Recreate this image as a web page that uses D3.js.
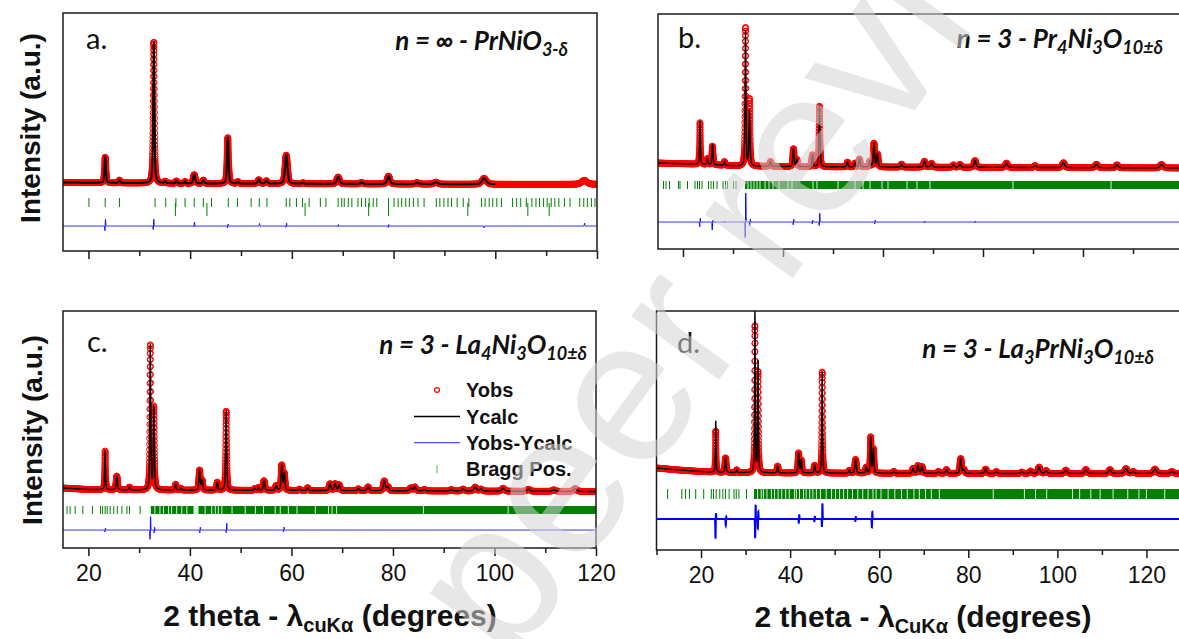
<!DOCTYPE html>
<html>
<head>
<meta charset="utf-8">
<title>Rietveld refinements</title>
<script src="https://cdn.jsdelivr.net/npm/d3@7/dist/d3.min.js"></script>
<style>
    html, body { margin: 0; padding: 0; background: #fff; overflow: hidden; }
    svg { display: block; }
</style>
</head>
<body>
<div id="svg-container"></div>
<script>
// peak tables: [2theta, Yobs height, Ycalc height, fwhm]  (heights in counts above background)
var peaksA = [
    [23.3, 2600, 2600, 0.3], [26.1, 300, 300, 0.3], [32.85, 14100, 14100, 0.3],
    [35.1, 200, 200, 0.3], [37.3, 250, 250, 0.3], [39.0, 200, 200, 0.3],
    [40.8, 900, 900, 0.45], [42.6, 350, 350, 0.4], [47.4, 4600, 4600, 0.35],
    [49.4, 200, 200, 0.4], [53.5, 400, 400, 0.5], [55.0, 300, 300, 0.5],
    [58.9, 2900, 2900, 0.55], [62.2, 100, 100, 0.5], [69.1, 700, 700, 0.6],
    [73.7, 150, 150, 0.6], [79.0, 800, 800, 0.6], [84.6, 150, 150, 0.7],
    [88.3, 200, 200, 0.8], [97.8, 600, 600, 1.0], [117.5, 400, 0, 1.2]
];
var peaksB = [
    [23.4, 4200, 4300, 0.2], [24.9, 600, 600, 0.2], [25.9, 1900, 2000, 0.25],
    [28.3, 400, 400, 0.25], [32.5, 13800, 13500, 0.22], [33.3, 6700, 5500, 0.25],
    [37.5, 500, 500, 0.3], [42.1, 1800, 1800, 0.3], [42.8, 700, 700, 0.3],
    [45.9, 1200, 1200, 0.3], [47.3, 6100, 6100, 0.25], [52.9, 500, 500, 0.3],
    [54.4, 400, 400, 0.3], [55.3, 800, 800, 0.3], [57.4, 600, 600, 0.3],
    [58.2, 2400, 2400, 0.3], [58.9, 1300, 1300, 0.3], [63.7, 300, 300, 0.35],
    [68.3, 600, 600, 0.4], [69.7, 400, 400, 0.4], [74.1, 250, 250, 0.4],
    [75.4, 300, 300, 0.4], [78.4, 700, 700, 0.45], [84.7, 450, 450, 0.5],
    [90.4, 200, 200, 0.5], [96.1, 500, 500, 0.6], [102.7, 350, 350, 0.6],
    [106.8, 300, 300, 0.6], [115.7, 350, 350, 0.7]
];
var peaksC = [
    [23.3, 3900, 3900, 0.2], [25.6, 1400, 1400, 0.3], [28.1, 300, 300, 0.25],
    [32.2, 14400, 14400, 0.22], [32.9, 8300, 8300, 0.25], [37.2, 600, 600, 0.3],
    [38.2, 200, 200, 0.3], [41.9, 2000, 2000, 0.3], [42.4, 1000, 1000, 0.3],
    [45.4, 800, 800, 0.3], [47.15, 7900, 7900, 0.25], [52.8, 200, 200, 0.3],
    [53.5, 300, 300, 0.3], [54.6, 1000, 1000, 0.35], [57.0, 500, 500, 0.35],
    [58.1, 2500, 2500, 0.3], [58.6, 1700, 1700, 0.3], [61.6, 150, 150, 0.35],
    [63.2, 300, 300, 0.35], [67.6, 700, 700, 0.4], [68.6, 700, 700, 0.4],
    [69.4, 600, 600, 0.4], [73.2, 200, 200, 0.4], [75.1, 400, 400, 0.45],
    [78.3, 1000, 1000, 0.45], [79.0, 400, 400, 0.45], [83.5, 300, 300, 0.5],
    [84.3, 400, 400, 0.5], [86.2, 150, 150, 0.5], [91.5, 150, 150, 0.5],
    [93.8, 200, 200, 0.6], [96.2, 400, 400, 0.6], [97.3, 200, 200, 0.6],
    [101.7, 300, 300, 0.6], [106.7, 200, 200, 0.7], [111.7, 150, 150, 0.7],
    [115.9, 300, 300, 0.7]
];
var peaksD = [
    [23.3, 4100, 5100, 0.18], [25.5, 1500, 1500, 0.3], [28.0, 300, 300, 0.25],
    [32.1, 14600, 16000, 0.2], [32.8, 10000, 11100, 0.22], [37.2, 700, 700, 0.3],
    [41.9, 2000, 2000, 0.3], [42.5, 1300, 1300, 0.3], [45.5, 800, 800, 0.3],
    [47.2, 10100, 10100, 0.22], [53.3, 300, 300, 0.3], [54.7, 1400, 1400, 0.35],
    [57.1, 600, 600, 0.3], [58.1, 3600, 3600, 0.28], [58.7, 2400, 2400, 0.3],
    [63.3, 200, 200, 0.35], [67.6, 500, 500, 0.4], [68.7, 800, 800, 0.4],
    [69.6, 700, 700, 0.4], [73.3, 200, 200, 0.4], [75.1, 400, 400, 0.45],
    [78.3, 1500, 1500, 0.4], [79.0, 400, 400, 0.4], [83.9, 450, 450, 0.5],
    [86.3, 200, 200, 0.5], [92.0, 150, 150, 0.5], [94.0, 250, 250, 0.5],
    [95.9, 650, 650, 0.55], [97.5, 300, 300, 0.55], [101.9, 350, 350, 0.6],
    [106.4, 400, 400, 0.6], [111.8, 400, 400, 0.6], [115.4, 500, 500, 0.65],
    [117.0, 200, 200, 0.65], [121.9, 450, 450, 0.7], [125.7, 200, 200, 0.7]
];

// background knots: [2theta, counts]
var backgroundA = [[15, 1050], [40, 950], [100, 870], [120, 870]];
var backgroundB = [[15, 1200], [25, 1050], [31, 900], [45, 820], [120, 700]];
var backgroundC = [[15, 1200], [20, 1050], [30, 1000], [60, 950], [120, 850]];
var backgroundD = [[10, 1500], [15, 1300], [20, 1150], [25, 1050], [40, 1000], [80, 950], [130, 950]];

// difference features: [2theta, up, down]
var diffA = [[23.3, 700, 500], [32.8, 700, 400], [40.8, 400, 100], [47.4, 200, 200], [53.6, 250, 0],
    [58.9, 300, 150], [69.1, 150, 100], [79.0, 150, 150], [97.8, 0, 200], [117.5, 300, 0]];
var diffB = [[23.4, 400, 500], [25.9, 200, 800], [28.3, 100, 100], [32.5, 3000, 1700], [33.4, 300, 400],
    [42.1, 300, 300], [45.9, 200, 200], [47.3, 900, 400], [58.4, 200, 200], [68.3, 100, 100], [78.4, 100, 100]];
var diffC = [[23.3, 200, 200], [32.2, 1400, 1000], [33.0, 300, 300], [42.0, 300, 300], [47.2, 700, 300], [58.5, 300, 200]];
var diffD = [[23.3, 660, 2000], [25.6, 260, 670], [32.2, 1530, 2000], [32.8, 800, 1000], [42.0, 400, 400],
    [45.5, 250, 250], [47.2, 1600, 870], [54.7, 200, 200], [58.4, 760, 870]];

// Bragg positions (2theta)
var braggA = [20.1, 23.3, 26.1, 33.1, 35.2, 37.2, 39.0, 40.8, 42.6, 44.2, 47.5, 49.3, 52.0, 53.6, 55.1,
    58.9, 59.6, 60.9, 62.1, 63.4, 65.6, 66.7, 69.1, 69.8, 70.3, 71.1, 71.8, 73.0, 73.7, 74.5, 75.2,
    76.0, 76.7, 79.0, 80.1, 80.9, 81.6, 82.4, 83.1, 83.9, 84.8, 86.0, 88.4, 89.1, 89.9, 90.7, 91.4,
    92.5, 93.7, 94.8, 97.3, 98.0, 98.8, 99.5, 100.3, 101.2, 103.4, 104.2, 105.0, 106.1, 107.2, 108.0,
    108.7, 109.5, 110.2, 111.0, 111.7, 112.5, 113.6, 114.7, 116.6, 117.4, 118.1, 118.9, 119.6];
var bragg2A = [37.1, 43.3, 62.6, 75.1, 79.0, 94.6, 106.4, 110.6];
var braggB = [16.1, 16.6, 17.3, 19.1, 19.4, 20.9, 22.4, 22.9, 23.3, 23.8, 25.1, 25.6, 26.1, 26.8,
    28.0, 28.5, 28.9, 30.1, 30.6];
var braggBandB = [32.4, 120];
var braggGapsB = [33.0, 33.6, 34.2, 34.8, 35.4, 36.4, 37.2, 38.0, 39.2, 41.0, 41.8, 46.0, 46.8, 51.0,
    54.4, 56.0, 57.4, 59.8, 61.0, 64.8, 66.8, 69.4, 86.0, 105.6];
var braggC = [15.8, 16.4, 17.4, 18.9, 20.8, 22.4, 22.8, 23.3, 23.7, 24.3, 25.0, 25.7, 26.6, 27.6, 28.1, 30.2];
var braggBandC = [32.3, 120];
var braggGapsC = [33.1, 34.1, 34.8, 35.8, 36.4, 37.4, 38.4, 39.4, [40.7, 41.7], 43.0, 44.3, 45.0, 45.6,
    46.3, 48.3, 50.9, 52.9, 54.5, 56.8, 57.8, 59.4, 61.1, 64.7, 67.3, 68.0, 68.9, 86.0, 102.7];
var braggD = [12.5, 15.7, 16.5, 17.4, 18.8, 20.6, 22.3, 22.8, 23.4, 24.2, 24.9, 25.5, 26.3, 27.4, 27.9, 28.5, 30.2];
var braggBandD = [31.9, 130];
var braggGapsD = [32.7, 33.5, 34.0, 34.8, 35.8, 36.5, 37.3, 38.1, 39.0, 39.8, 41.0, 41.4, 42.1, 43.0,
    43.6, 44.4, 45.1, 45.9, 46.8, 48.1, 49.3, 50.2, 51.1, 52.0, 52.9, 54.0, 55.2, 56.3, 57.5, 58.6,
    59.3, 60.4, 62.0, 63.5, 65.0, 66.3, 67.8, 69.0, 70.4, 71.7, 73.5, 85.6, 92.6, 95.1, 97.6, 103.4,
    105.0, 107.5, 109.6, 112.5, 115.8, 118.3, 120.0, 124.1];

var xMajorTicks = [20, 40, 60, 80, 100, 120];
var xMinorTicks = [10, 30, 50, 70, 90, 110, 130];
var panelTags = ['a.', 'b.', 'c.', 'd.'];
var titleA = [['n = ∞ - PrNiO', 0], ['3-δ', 1]];
var titleB = [['n = 3 - Pr', 0], ['4', 1], ['Ni', 0], ['3', 1], ['O', 0], ['10±δ', 1]];
var titleC = [['n = 3 - La', 0], ['4', 1], ['Ni', 0], ['3', 1], ['O', 0], ['10±δ', 1]];
var titleD = [['n = 3 - La', 0], ['3', 1], ['PrNi', 0], ['3', 1], ['O', 0], ['10±δ', 1]];
var xLabelC = [['2 theta - λ', 0], ['cuKα', 1], [' (degrees)', 0]];
var xLabelD = [['2 theta - λ', 0], ['CuKα', 1], [' (degrees)', 0]];
var yLabelText = 'Intensity (a.u.)';
var legendLabels = ['Yobs', 'Ycalc', 'Yobs-Ycalc', 'Bragg Pos.'];
var watermarkText = 'peer review';

;(function () {

    var width = 1179
        , height = 639
        , red = '#ff0000'
        , green = '#008000'
        , blue = '#0000ff'
        , frameColor = '#1a1a1a'
        , sansBold = '"Liberation Sans", Arial, sans-serif'
        , labelFont = 'Lato, "Open Sans", sans-serif';

    var panels = [
        { tag: panelTags[0], title: titleA, peaks: peaksA, background: backgroundA, diff: diffA,
            bragg: braggA, bragg2: bragg2A, band: null, gaps: [],
            left: 63, right: 597, top: 13, bottom: 251, xDomain: [15, 120], yDomain: [-5800, 18000],
            calcMax: 100, braggRow: [-500, -1400], bragg2Row: [-1000, -2300], diffBase: -3300,
            tagPos: [86, 49], titlePos: [568, 50], calcWidth: 2, diffWidth: 1, xLabel: null, yLabel: [30, 128] },
        { tag: panelTags[1], title: titleB, peaks: peaksB, background: backgroundB, diff: diffB,
            bragg: braggB, bragg2: [], band: braggBandB, gaps: braggGapsB,
            left: 658, right: 1183, top: 14, bottom: 249, xDomain: [15, 120], yDomain: [-7400, 16100],
            calcMax: 120, braggRow: [-600, -1400], bragg2Row: null, diffBase: -4700,
            tagPos: [678, 48], titlePos: [1163, 48], calcWidth: 1.4, diffWidth: 1, xLabel: null, yLabel: null },
        { tag: panelTags[2], title: titleC, peaks: peaksC, background: backgroundC, diff: diffC,
            bragg: braggC, bragg2: [], band: braggBandC, gaps: braggGapsC,
            left: 63, right: 596, top: 311, bottom: 548, xDomain: [15, 120], yDomain: [-4800, 18900],
            calcMax: 120, braggRow: [-600, -1400], bragg2Row: null, diffBase: -3000,
            tagPos: [87, 352], titlePos: [587, 354], calcWidth: 1.4, diffWidth: 1, xLabel: [xLabelC, 330, 626], yLabel: [32, 430] },
        { tag: panelTags[3], title: titleD, peaks: peaksD, background: backgroundD, diff: diffD,
            bragg: braggD, bragg2: [], band: braggBandD, gaps: braggGapsD,
            left: 656.5, right: 1191, top: 311, bottom: 550, xDomain: [10, 130], yDomain: [-6700, 17200],
            calcMax: 130, braggRow: [-600, -1600], bragg2Row: null, diffBase: -3600,
            tagPos: [677, 353], titlePos: [1154, 358], calcWidth: 1.4, diffWidth: 2, xLabel: [xLabelD, 923, 627], yLabel: null }
    ];

    var svg = d3.select('#svg-container').append('svg')
        .attr('width', width)
        .attr('height', height)
        .style('background', '#fff');

    var defs = svg.append('defs');

    // pseudo-Voigt, unit height
    function pv(dx, w) {
        var t = dx / w;
        t = 4 * t * t;
        return 0.5 / (1 + t) + 0.5 * Math.exp(-Math.LN2 * t);
    }

    function spike(dx) {
        var t = dx / 0.06;
        return Math.exp(-t * t);
    }

    // little rings for every observed point, packed into one path
    function ringPath(points, r) {
        var p = d3.path()
            , lastX = -1e9
            , lastY = -1e9;
        points.forEach(function (pt) {
            if (Math.abs(pt[0] - lastX) < 0.4 && Math.abs(pt[1] - lastY) < 0.4) { return; }
            lastX = pt[0];
            lastY = pt[1];
            p.moveTo(pt[0] + r, pt[1]);
            p.arc(pt[0], pt[1], r, 0, 2 * Math.PI);
        });
        return p.toString();
    }

    function richText(sel, parts, subSize, subShift) {
        var shift = 0;
        parts.forEach(function (part) {
            var isSub = part[1] === 1;
            var target = isSub ? subShift : 0;
            var t = sel.append('tspan')
                .attr('dy', target - shift)
                .text(part[0]);
            if (isSub) { t.style('font-size', subSize + 'px'); }
            shift = target;
        });
    }

    function drawPanel(cfg, i) {
        var x = d3.scaleLinear().domain(cfg.xDomain).range([cfg.left, cfg.right]);
        var y = d3.scaleLinear().domain(cfg.yDomain).range([cfg.bottom, cfg.top]);
        var bg = d3.scaleLinear()
            .domain(cfg.background.map(function (d) { return d[0]; }))
            .range(cfg.background.map(function (d) { return d[1]; }))
            .clamp(true);

        var grid = d3.range(cfg.xDomain[0], cfg.xDomain[1] + 1e-6, 0.01);

        function profile(t, col) {
            var s = bg(t);
            cfg.peaks.forEach(function (p) {
                var dx = t - p[0];
                if (Math.abs(dx) < 20 * p[3]) { s += p[col] * pv(dx, p[3]); }
            });
            return s;
        }

        function difference(t) {
            var s = cfg.diffBase;
            cfg.diff.forEach(function (f) {
                s += f[1] * spike(t - f[0] - 0.05) - f[2] * spike(t - f[0] + 0.05);
            });
            return s;
        }

        var clipId = 'clip-' + i;
        defs.append('clipPath').attr('id', clipId)
            .append('rect')
            .attr('x', cfg.left).attr('y', cfg.top)
            .attr('width', cfg.right - cfg.left).attr('height', cfg.bottom - cfg.top);

        var g = svg.append('g').attr('class', 'panel panel-' + i);
        var plot = g.append('g').attr('clip-path', 'url(#' + clipId + ')');

        // Yobs
        var obsPts = grid.map(function (t) { return [x(t), y(profile(t, 1))]; });
        plot.append('path')
            .attr('d', ringPath(obsPts, 2.9))
            .attr('fill', 'none')
            .attr('stroke', red)
            .attr('stroke-width', 1);

        // Ycalc
        var calcGrid = grid.filter(function (t) { return t <= cfg.calcMax; });
        plot.append('path')
            .datum(calcGrid)
            .attr('fill', 'none')
            .attr('stroke', '#000')
            .attr('stroke-width', cfg.calcWidth)
            .attr('stroke-linejoin', 'round')
            .attr('d', d3.line()
                .x(function (t) { return x(t); })
                .y(function (t) { return y(profile(t, 2)); }));

        // Bragg positions
        plot.selectAll('.bragg')
            .data(cfg.bragg)
            .enter().append('line')
            .attr('class', 'bragg')
            .attr('x1', function (d) { return x(d); })
            .attr('x2', function (d) { return x(d); })
            .attr('y1', y(cfg.braggRow[0]))
            .attr('y2', y(cfg.braggRow[1]))
            .attr('stroke', green)
            .attr('stroke-width', 1);

        if (cfg.bragg2Row) {
            plot.selectAll('.bragg2')
                .data(cfg.bragg2)
                .enter().append('line')
                .attr('class', 'bragg2')
                .attr('x1', function (d) { return x(d); })
                .attr('x2', function (d) { return x(d); })
                .attr('y1', y(cfg.bragg2Row[0]))
                .attr('y2', y(cfg.bragg2Row[1]))
                .attr('stroke', green)
                .attr('stroke-width', 1);
        }

        if (cfg.band) {
            plot.append('rect')
                .attr('x', x(cfg.band[0]))
                .attr('y', y(cfg.braggRow[0]))
                .attr('width', x(cfg.band[1]) - x(cfg.band[0]))
                .attr('height', y(cfg.braggRow[1]) - y(cfg.braggRow[0]))
                .attr('fill', green);
            plot.selectAll('.gap')
                .data(cfg.gaps)
                .enter().append('rect')
                .attr('class', 'gap')
                .attr('x', function (d) { return Array.isArray(d) ? x(d[0]) : x(d) - 0.5; })
                .attr('width', function (d) { return Array.isArray(d) ? x(d[1]) - x(d[0]) : 1; })
                .attr('y', y(cfg.braggRow[0]) - 1)
                .attr('height', y(cfg.braggRow[1]) - y(cfg.braggRow[0]) + 2)
                .attr('fill', '#fff')
                .attr('opacity', 0.85);
        }

        // Yobs - Ycalc
        plot.append('path')
            .datum(grid)
            .attr('fill', 'none')
            .attr('stroke', blue)
            .attr('stroke-width', cfg.diffWidth)
            .attr('d', d3.line()
                .x(function (t) { return x(t); })
                .y(function (t) { return y(difference(t)); }));

        // frame
        g.append('rect')
            .attr('x', cfg.left).attr('y', cfg.top)
            .attr('width', cfg.right - cfg.left).attr('height', cfg.bottom - cfg.top)
            .attr('fill', 'none')
            .attr('stroke', frameColor)
            .attr('stroke-width', 1.5);

        var inDomain = function (v) { return v >= cfg.xDomain[0] && v <= cfg.xDomain[1]; };

        var major = d3.axisBottom(x)
            .tickValues(xMajorTicks.filter(inDomain))
            .tickSize(8)
            .tickPadding(9)
            .tickFormat(cfg.xLabel ? d3.format('d') : function () { return ''; });
        var minor = d3.axisBottom(x)
            .tickValues(xMinorTicks.filter(inDomain))
            .tickSize(5)
            .tickFormat(function () { return ''; });

        var axG = g.append('g').attr('transform', 'translate(0,' + cfg.bottom + ')').call(major);
        g.append('g').attr('transform', 'translate(0,' + cfg.bottom + ')').call(minor);
        g.selectAll('.domain').remove();
        g.selectAll('.tick line').attr('stroke', frameColor).attr('stroke-width', 1.5);
        axG.selectAll('.tick text')
            .attr('fill', '#111')
            .style('font-family', sansBold)
            .style('font-size', '23px');

        // panel tag and compound
        g.append('text')
            .attr('x', cfg.tagPos[0]).attr('y', cfg.tagPos[1])
            .style('font-family', labelFont)
            .style('font-size', '29px')
            .attr('fill', '#111')
            .text(cfg.tag);

        var title = g.append('text')
            .attr('x', cfg.titlePos[0]).attr('y', cfg.titlePos[1])
            .attr('text-anchor', 'end')
            .style('font-family', labelFont)
            .style('font-weight', 'bold')
            .style('font-style', 'italic')
            .style('font-size', '26px')
            .attr('fill', '#111');
        richText(title, cfg.title, 18, 6);

        if (cfg.xLabel) {
            var xl = svg.append('text')
                .attr('x', cfg.xLabel[1]).attr('y', cfg.xLabel[2])
                .attr('text-anchor', 'middle')
                .style('font-family', sansBold)
                .style('font-weight', 'bold')
                .style('font-size', '30px')
                .attr('fill', '#111');
            richText(xl, cfg.xLabel[0], 20, 6);
        }

        if (cfg.yLabel) {
            svg.append('text')
                .attr('transform', 'translate(' + cfg.yLabel[0] + ',' + cfg.yLabel[1] + ') rotate(-90)')
                .attr('text-anchor', 'middle')
                .attr('dominant-baseline', 'central')
                .style('font-family', sansBold)
                .style('font-weight', 'bold')
                .style('font-size', '28px')
                .attr('fill', '#111')
                .text(yLabelText);
        }
    }

    function drawLegend() {
        var leg = svg.append('g').attr('class', 'legend')
            , rows = [390, 416.5, 442.7, 469.3];

        leg.append('circle')
            .attr('cx', 437).attr('cy', rows[0]).attr('r', 2.4)
            .attr('fill', 'none').attr('stroke', red).attr('stroke-width', 1.2);
        leg.append('line')
            .attr('x1', 414).attr('x2', 460).attr('y1', rows[1]).attr('y2', rows[1])
            .attr('stroke', '#000').attr('stroke-width', 1.5);
        leg.append('line')
            .attr('x1', 414).attr('x2', 460).attr('y1', rows[2]).attr('y2', rows[2])
            .attr('stroke', '#4d4dff').attr('stroke-width', 1.2);
        leg.append('line')
            .attr('x1', 437).attr('x2', 437).attr('y1', rows[3] - 4).attr('y2', rows[3] + 4)
            .attr('stroke', '#6fbf6f').attr('stroke-width', 1.2);

        leg.selectAll('text')
            .data(legendLabels)
            .enter().append('text')
            .attr('x', 466)
            .attr('y', function (d, i) { return rows[i] + 7; })
            .style('font-family', sansBold)
            .style('font-weight', 'bold')
            .style('font-size', '20px')
            .attr('fill', '#111')
            .text(function (d) { return d; });
    }

    function drawWatermark() {
        svg.append('text')
            .attr('transform', 'translate(821,239) rotate(-54)')
            .attr('text-anchor', 'middle')
            .style('font-family', sansBold)
            .style('font-size', '205px')
            .attr('fill', '#d4d4d4')
            .attr('opacity', 0.55)
            .text(watermarkText);
    }

    function initialize() {
        panels.forEach(drawPanel);
        drawLegend();
        drawWatermark();
    }

    initialize();

}());
</script>
</body>
</html>
